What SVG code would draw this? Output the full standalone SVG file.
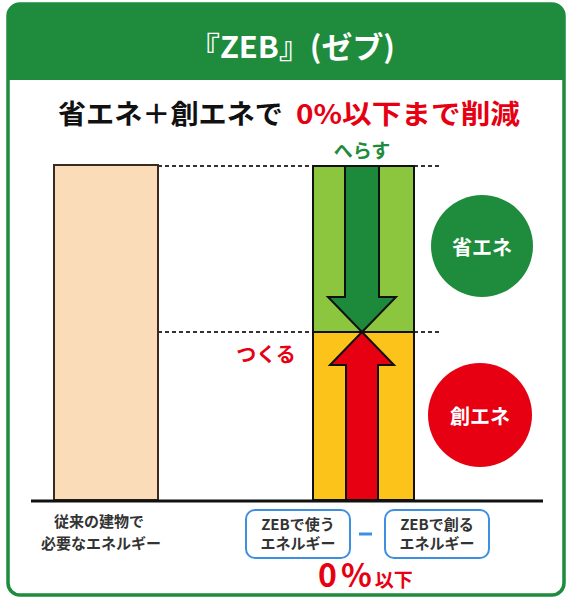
<svg xmlns="http://www.w3.org/2000/svg" width="567" height="598" viewBox="0 0 567 598">
<style>
text{font-family:"Noto Sans CJK JP","Noto Sans",sans-serif;font-weight:bold}
.dash{stroke:#333;stroke-width:2;stroke-dasharray:4 3;fill:none}
.blk{stroke:#111;stroke-width:2}
.box{fill:#fff;stroke:#3d8fe0;stroke-width:2}
.lbl{font-size:15px;fill:#333;text-anchor:middle}
</style>
<rect x="0" y="0" width="567" height="598" fill="#fff"/>
<g id="frame">
<rect x="8" y="4" width="556" height="591" rx="12" fill="#fff" stroke="#1e8c3c" stroke-width="3.5"/>
<path d="M8,80 V16 A12,12 0 0 1 20,4 H552 A12,12 0 0 1 564,16 V80 Z" fill="#1e8c3c"/>
<text x="292" y="58" font-size="30" fill="#fff" text-anchor="middle" textLength="206" lengthAdjust="spacingAndGlyphs">『ZEB』(ゼブ)</text>
</g>
<g id="subtitle">
<text x="58" y="124" font-size="27" fill="#111" textLength="225" lengthAdjust="spacingAndGlyphs">省エネ＋創エネで</text>
<text x="296" y="124" font-size="27" fill="#e60012" textLength="224" lengthAdjust="spacingAndGlyphs">0%以下まで削減</text>
</g>
<g id="connectors">
<line class="dash" x1="158" y1="166" x2="313" y2="166"/>
<line class="dash" x1="414" y1="166" x2="442" y2="166"/>
<line class="dash" x1="158" y1="332" x2="313" y2="332"/>
<line class="dash" x1="414" y1="332" x2="442" y2="332"/>
</g>
<g id="conventional">
<rect x="54" y="165" width="104" height="335" fill="#fadcb9" stroke="#3a2a20" stroke-width="2"/>
</g>
<g id="zeb-bar">
<rect x="313" y="166" width="101" height="166" fill="#8cc63f" class="blk"/>
<rect x="313" y="332" width="101" height="168" fill="#fcc41a" class="blk"/>
</g>
<g id="arrow-down">
<polygon points="345,166 379,166 379,297 396,297 362,332 328,297 345,297" fill="#1d8a3b" class="blk"/>
</g>
<g id="arrow-up">
<polygon points="362,332 394,365 378,365 378,500 346,500 346,365 330,365" fill="#e60012" class="blk"/>
</g>
<g id="label-herasu">
<text x="362" y="158" font-size="19" fill="#1e8c3c" text-anchor="middle">へらす</text>
</g>
<g id="label-tsukuru">
<text x="266" y="362" font-size="20" fill="#e60012" text-anchor="middle">つくる</text>
</g>
<g id="circle-shoene">
<circle cx="482" cy="246" r="51" fill="#1e8c3c"/>
<text x="482" y="255" font-size="20" fill="#fff" text-anchor="middle">省エネ</text>
</g>
<g id="circle-souene">
<circle cx="480" cy="415" r="52" fill="#e60012"/>
<text x="480" y="424" font-size="20" fill="#fff" text-anchor="middle">創エネ</text>
</g>
<g id="baseline">
<line x1="31" y1="501" x2="543" y2="501" stroke="#111" stroke-width="3"/>
</g>
<g id="label-conventional">
<text class="lbl" x="99" y="527" font-size="16.5">従来の建物で</text>
<text class="lbl" x="101" y="549" font-size="16.5">必要なエネルギー</text>
</g>
<g id="box-use">
<rect class="box" x="246" y="510" width="104" height="48" rx="9"/>
<text class="lbl" x="298" y="530">ZEBで使う</text>
<text class="lbl" x="298" y="549">エネルギー</text>
</g>
<g id="minus">
<line x1="359" y1="534" x2="372" y2="534" stroke="#3d8fe0" stroke-width="3"/>
</g>
<g id="box-create">
<rect class="box" x="385" y="510" width="104" height="48" rx="9"/>
<text class="lbl" x="437" y="530">ZEBで創る</text>
<text class="lbl" x="437" y="549">エネルギー</text>
</g>
<g id="result">
<text x="318" y="587" font-size="32" fill="#e60012">0<tspan dx="4">%</tspan><tspan font-size="19" dx="3">以下</tspan></text>
</g>
</svg>
